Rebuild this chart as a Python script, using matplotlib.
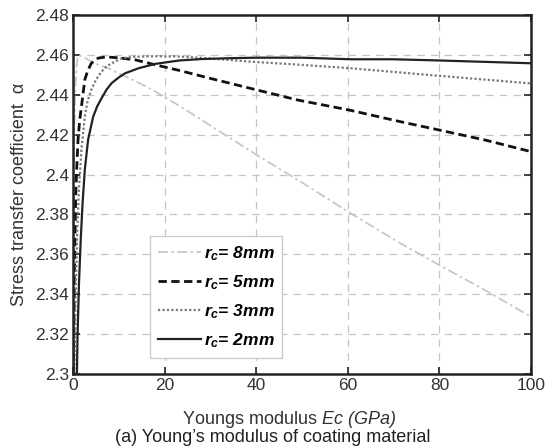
import matplotlib
matplotlib.use("Agg")
import matplotlib.pyplot as plt

plt.rcParams["font.family"] = ["Liberation Sans", "DejaVu Sans"]
plt.rcParams["mathtext.fontset"] = "custom"
plt.rcParams["mathtext.rm"] = "Liberation Sans"
plt.rcParams["mathtext.it"] = "Liberation Sans:bold:italic"
plt.rcParams["mathtext.sf"] = "Liberation Sans:italic"

# values (x = Ec in GPa, y = alpha)
x_8mm = [0.05, 0.15, 0.3, 0.5, 0.8, 1.1, 1.7, 3.0, 5.0, 7.5, 9.9, 13.5, 17.3, 23.2, 28, 40, 50,
         60.6, 71.5, 80, 90, 100]
y_8mm = [2.30, 2.37, 2.42, 2.443, 2.455, 2.4598, 2.4595, 2.458, 2.4555, 2.4535, 2.4508, 2.447,
         2.4425, 2.4345, 2.4275, 2.410, 2.396, 2.3806, 2.3655, 2.3546, 2.342, 2.3287]

x_5mm = [0.1, 0.3, 0.6, 0.85, 1.1, 1.45, 1.84, 2.57, 3.2, 4.0, 5.5, 7.0, 8.45, 10.5, 13.6, 18,
         23.2, 30, 40, 49, 60.4, 71.5, 80, 90, 100]
y_5mm = [2.30, 2.35, 2.39, 2.405, 2.4175, 2.427, 2.434, 2.4475, 2.452, 2.4558, 2.4584, 2.4589,
         2.4588, 2.4584, 2.4575, 2.455, 2.4522, 2.4482, 2.4425, 2.4374, 2.4323, 2.4265, 2.4223,
         2.4173, 2.4115]

x_3mm = [0.3, 0.6, 0.9, 1.3, 1.84, 2.57, 3.2, 4.0, 5.0, 6.25, 7.3, 8.45, 10.6, 13.5, 17.3, 23.2,
         30, 38.8, 50, 60.6, 80, 100]
y_3mm = [2.30, 2.34, 2.37, 2.393, 2.4125, 2.429, 2.437, 2.4425, 2.4475, 2.4517, 2.4541, 2.4558,
         2.4583, 2.4591, 2.4593, 2.4592, 2.4582, 2.4566, 2.455, 2.4533, 2.4495, 2.4457]

x_2mm = [0.85, 1.0, 1.3, 1.7, 2.1, 2.58, 3.3, 4.4, 5.3, 6.25, 7.3, 8.45, 10, 11.4, 14.3, 18,
         23.2, 28, 33.6, 40, 50, 60.6, 70, 80, 90, 100]
y_2mm = [2.30, 2.32, 2.345, 2.368, 2.386, 2.4025, 2.4175, 2.429, 2.4343, 2.4383, 2.4425, 2.4459,
         2.4487, 2.4508, 2.4533, 2.4555, 2.4572, 2.4579, 2.4583, 2.4586, 2.4586, 2.4578, 2.4578,
         2.4572, 2.4565, 2.4558]

labels = [r"$r_c$= 8mm", r"$r_c$= 5mm", r"$r_c$= 3mm", r"$r_c$= 2mm"]
x_ticks = [0, 20, 40, 60, 80, 100]
y_ticks = [2.3, 2.32, 2.34, 2.36, 2.38, 2.4, 2.42, 2.44, 2.46, 2.48]
y_ticklabels = ["2.3", "2.32", "2.34", "2.36", "2.38", "2.4", "2.42", "2.44", "2.46", "2.48"]

fig = plt.figure(figsize=(5.46, 4.47), dpi=100)
ax = fig.add_axes([73 / 546, 1 - 374 / 447, 458 / 546, 359 / 447])

ax.plot(x_8mm, y_8mm, color="#c4c4c4", lw=1.2, ls=(0, (6, 2, 1.5, 2)), label=labels[0])
ax.plot(x_5mm, y_5mm, color="#111111", lw=2.0, ls=(0, (3, 1.6)), label=labels[1])
ax.plot(x_3mm, y_3mm, color="#777777", lw=1.6, ls=(0, (1, 1)), label=labels[2])
ax.plot(x_2mm, y_2mm, color="#222222", lw=1.6, ls="-", label=labels[3])

ax.set_xlim(0, 100)
ax.set_ylim(2.3, 2.48)
ax.set_xticks(x_ticks)
ax.set_yticks(y_ticks)
ax.set_yticklabels(y_ticklabels)
ax.tick_params(direction="in", top=True, right=True, length=5, width=1.2,
               labelsize=12.5, colors="#222222", labelcolor="#333333", pad=3)
ax.grid(True, color="#c4c4c4", ls=(0, (6, 5)), lw=0.9)
for s in ax.spines.values():
    s.set_linewidth(1.8)
    s.set_color("#222222")

ax.set_ylabel("Stress transfer coefficient  \u03b1", fontsize=13, color="#333333", labelpad=5)

leg = ax.legend(loc="lower left", bbox_to_anchor=(0.168, 0.045), borderaxespad=0,
                prop={"weight": "bold", "style": "italic", "size": 12.5},
                handlelength=2.5, handletextpad=0.15, labelspacing=0.6,
                fancybox=False, framealpha=1, borderpad=0.45)
leg.get_frame().set_edgecolor("#cccccc")
leg.get_frame().set_linewidth(1.0)

fig.text(289 / 546, 1 - 420 / 447, r"Youngs modulus $\mathsf{Ec\ (GPa)}$",
         ha="center", va="center", fontsize=13, color="#333333")
fig.text(273 / 546, 1 - 438 / 447, "(a) Young\u2019s modulus of coating material",
         ha="center", va="center", fontsize=13, color="#222222")

fig.savefig("out.png", dpi=100)
